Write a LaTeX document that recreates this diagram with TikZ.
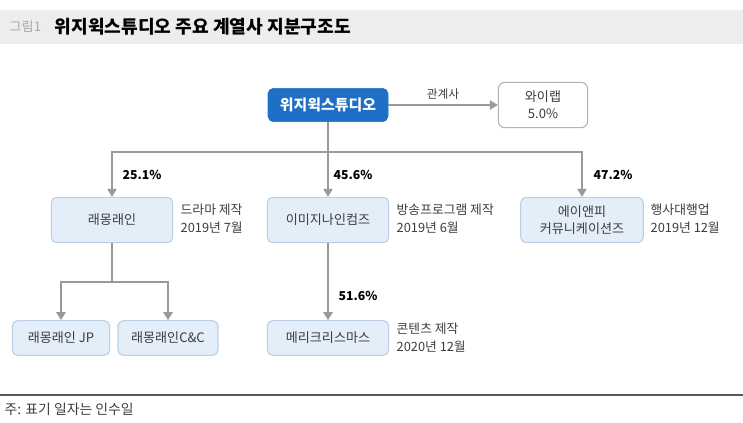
\documentclass[tikz,border=0pt]{standalone}
\usepackage{fontspec}
\setmainfont{Noto Sans CJK KR}
\usetikzlibrary{arrows.meta}
\definecolor{bluemain}{HTML}{1F6FC6}
\definecolor{boxfill}{HTML}{E4EEF9}
\definecolor{boxline}{HTML}{B9CEE6}
\definecolor{arrgray}{HTML}{9A9A9A}
\definecolor{txtgray}{HTML}{3C3C3C}
\tikzset{
  sub/.style = {draw=boxline, fill=boxfill, rounded corners=4pt, line width=0.8pt,
    minimum width=91pt, minimum height=34pt, font=\fontsize{9.8}{13}\selectfont, align=center, text=txtgray},
  low/.style = {sub, minimum height=26pt},
  ar/.style = {draw=arrgray, line width=1.3pt, -{Triangle[width=7pt,length=6pt]}},
  ln/.style = {draw=arrgray, line width=1.3pt},
  pct/.style = {font=\bfseries\fontsize{9.2}{10}\selectfont, anchor=west},
  side/.style = {font=\fontsize{9.6}{13.5}\selectfont, anchor=west, align=left, text=txtgray}
}
\begin{document}
\begin{tikzpicture}[x=0.75pt, y=-0.75pt]
\useasboundingbox (0,0) rectangle (743,423);
% title bar
\fill[black!7] (0,10) rectangle (743,44);
\node[anchor=west, text=black!35, font=\fontsize{9.8}{11}\selectfont] (fig) at (5,27) {그림1};
\node[anchor=west, font=\bfseries\fontsize{13.6}{15}\selectfont] (title) at (50,27) {위지윅스튜디오 주요 계열사 지분구조도};

% nodes
\node[draw=bluemain, fill=bluemain, rounded corners=4pt, minimum width=90pt, minimum height=25pt,
  text=white, font=\bfseries\fontsize{11.2}{12}\selectfont] (wz) at (328,105) {위지윅스튜디오};
\node[draw=black!30, fill=white, rounded corners=5pt, line width=0.8pt, minimum width=67pt, minimum height=34pt,
  align=center, text=txtgray, font=\fontsize{9.8}{13}\selectfont] (wl) at (543,105) {와이랩\\5.0\%};
\node[sub] (rm) at (112,220) {래몽래인};
\node[sub] (im) at (328,220) {이미지나인컴즈};
\node[sub, minimum width=92pt] (ap) at (582,220) {에이앤피\\커뮤니케이션즈};
\node[low, minimum width=73pt] (jp) at (61,338) {래몽래인 JP};
\node[low, minimum width=75pt] (cc) at (168,338) {래몽래인C\&C};
\node[low] (mc) at (328,338) {메리크리스마스};

% side notes
\node[side] (n1) at (176,219) {드라마 제작\\2019년 7월};
\node[side] (n2) at (392,219) {방송프로그램 제작\\2019년 6월};
\node[side] (n3) at (646,219) {행사대행업\\2019년 12월};
\node[side] (n4) at (392,338) {콘텐츠 제작\\2020년 12월};

% connectors
\coordinate (bus) at (328,152);
\coordinate (fork) at (112,282);
\draw[ar] (wz) -- node[above, font=\fontsize{8.8}{10}\selectfont, text=txtgray] {관계사} (wl);
\draw[ar] (wz) -- (im);
\draw[ar] (bus) -| (rm);
\draw[ar] (bus) -| (ap);
\draw[ln] (rm) -- (fork);
\draw[ar] (fork) -| (jp);
\draw[ar] (fork) -| (cc);
\draw[ar] (im) -- (mc);

% shares
\node[pct] (p1) at (118,175) {25.1\%};
\node[pct] (p2) at (329,175) {45.6\%};
\node[pct] (p3) at (589,175) {47.2\%};
\node[pct] (p4) at (334,296) {51.6\%};

% footer
\draw[black!65, line width=1.2pt] (0,395) -- (743,395);
\node[anchor=west, text=txtgray, font=\fontsize{10.4}{12}\selectfont] (note) at (0,409) {주: 표기 일자는 인수일};
\end{tikzpicture}
\end{document}
